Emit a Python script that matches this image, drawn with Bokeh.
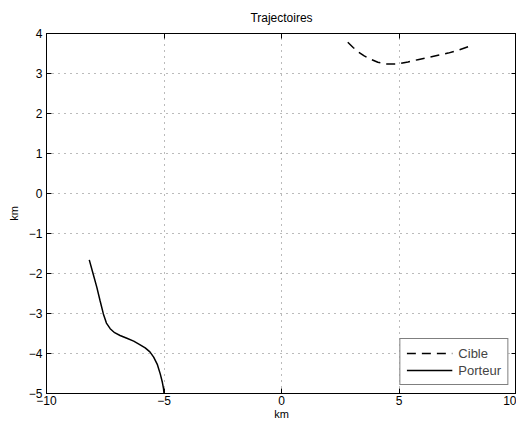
from bokeh.plotting import figure
from bokeh.models import Range1d, FixedTicker, LinearAxis, Legend, LegendItem
from bokeh.embed import file_html
from bokeh.resources import INLINE

# Data (km)
cible_x = [2.82, 3.05, 3.29, 3.52, 3.75, 4.10, 4.44, 4.70, 4.96, 5.38, 5.80, 6.24, 6.66, 7.09, 7.55, 8.08]
cible_y = [3.78, 3.65, 3.53, 3.44, 3.37, 3.28, 3.24, 3.235, 3.24, 3.29, 3.345, 3.40, 3.455, 3.51, 3.59, 3.70]

porteur_x = [-8.18, -8.02, -7.86, -7.72, -7.58, -7.45, -7.29, -7.10, -6.87, -6.58, -6.29, -6.05, -5.80, -5.60, -5.44, -5.28, -5.16, -5.07, -5.02, -5.00]
porteur_y = [-1.66, -2.00, -2.34, -2.68, -3.01, -3.24, -3.38, -3.48, -3.55, -3.62, -3.69, -3.77, -3.86, -3.96, -4.09, -4.28, -4.51, -4.72, -4.88, -5.00]

x_ticks = [-10, -5, 0, 5, 10]
y_ticks = [-5, -4, -3, -2, -1, 0, 1, 2, 3, 4]

title_text = "Trajectoires"
x_label = "km"
y_label = "km"
legend_labels = ["Cible", "Porteur"]

FONT = "Liberation Sans"

p = figure(width=516, height=422, output_backend="svg", toolbar_location=None,
           x_range=Range1d(-10, 10), y_range=Range1d(-5, 4),
           min_border_left=46, min_border_right=0, min_border_top=32, min_border_bottom=24,
           title=title_text)

p.title.align = "center"
p.title.text_font = FONT
p.title.text_font_style = "normal"
p.title.text_font_size = "12px"
p.title.text_color = "black"
p.title.standoff = 17

def fmt(v):
    return str(v).replace("-", "\u2212")

def style_axis(ax, ticks, show_labels=True):
    ax.ticker = FixedTicker(ticks=ticks)
    ax.major_tick_in = 5
    ax.major_tick_out = 0
    ax.minor_tick_in = 0
    ax.minor_tick_out = 0
    ax.axis_line_color = "black"
    ax.major_tick_line_color = "black"
    ax.axis_line_width = 1
    ax.major_label_text_font = FONT
    ax.major_label_text_font_size = "12px"
    ax.major_label_text_color = "black"
    ax.axis_label_text_font = FONT
    ax.axis_label_text_font_size = "11px"
    ax.axis_label_text_font_style = "normal"
    ax.axis_label_text_color = "black"
    if show_labels:
        ax.major_label_overrides = {t: fmt(t) for t in ticks}
    else:
        ax.major_label_overrides = {t: "" for t in ticks}
        ax.major_label_standoff = 0

xa = p.xaxis[0]
ya = p.yaxis[0]
style_axis(xa, x_ticks)
style_axis(ya, y_ticks)
xa.axis_label = x_label
ya.axis_label = y_label
xa.major_label_standoff = 2
xa.axis_label_standoff = 0
ya.major_label_standoff = 4
ya.axis_label_standoff = 6

top = LinearAxis()
right = LinearAxis()
style_axis(top, x_ticks, show_labels=False)
style_axis(right, y_ticks, show_labels=False)
p.add_layout(top, "above")
p.add_layout(right, "right")

p.xgrid.ticker = FixedTicker(ticks=x_ticks)
p.ygrid.ticker = FixedTicker(ticks=y_ticks)
for g in (p.xgrid, p.ygrid):
    g.grid_line_color = "#777777"
    g.grid_line_dash = "1 5"
    g.grid_line_width = 1

p.outline_line_color = "black"

r1 = p.line(cible_x, cible_y, line_color="black", line_width=1.5, line_dash="9 6")
r2 = p.line(porteur_x, porteur_y, line_color="black", line_width=1.5)

legend = Legend(items=[LegendItem(label=legend_labels[0], renderers=[r1]),
                       LegendItem(label=legend_labels[1], renderers=[r2])],
                location="bottom_right")
legend.border_line_color = "black"
legend.border_line_width = 1
legend.label_text_font = FONT
legend.label_text_font_size = "13px"
legend.glyph_width = 46
legend.glyph_height = 16
legend.spacing = 1
legend.padding = 6
legend.margin = 8
legend.label_standoff = 6
legend.background_fill_alpha = 1
p.add_layout(legend)

open("out.html", "w").write(file_html(p, INLINE))
